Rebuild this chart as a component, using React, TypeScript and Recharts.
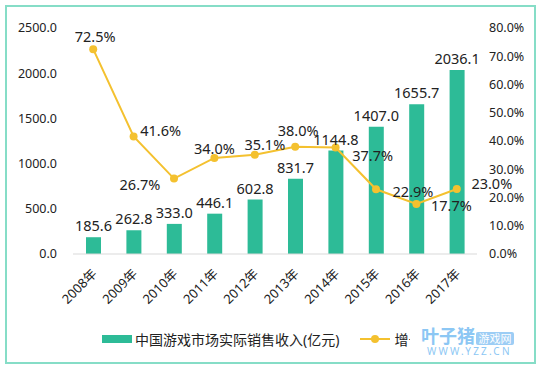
import { ComposedChart, Bar, Line, XAxis, YAxis, Legend, LabelList } from 'recharts'

const years = ['2008年', '2009年', '2010年', '2011年', '2012年', '2013年', '2014年', '2015年', '2016年', '2017年']
const revenue = [185.6, 262.8, 333.0, 446.1, 602.8, 831.7, 1144.8, 1407.0, 1655.7, 2036.1]
const growth = [72.5, 41.6, 26.7, 34.0, 35.1, 38.0, 37.7, 22.9, 17.7, 23.0]
const leftTicks = [0, 500, 1000, 1500, 2000, 2500]
const rightTicks = [0, 10, 20, 30, 40, 50, 60, 70, 80]

const barName = '中国游戏市场实际销售收入(亿元)'
const lineName = '增长率'

// label offsets for the growth line (Excel put them all over the place)
const lineLabelOffsets = [
  [2, -13], [27, -6], [-34, 5], [0, -10], [10, -11],
  [3, -17], [37, 8], [37, 2], [35, 1], [35, -6],
]

const FONT = "'Noto Sans', 'Noto Sans CJK SC', sans-serif"
const BAR = '#2dbb97'
const LINE = '#f4c12f'
const TEXT = '#222'

const data = years.map((year, i) => ({ year, revenue: revenue[i], growth: growth[i] }))

function LineLabel(props: any) {
  const { x, y, value, index } = props
  const [dx, dy] = lineLabelOffsets[index] || [0, -12]
  return (
    <text x={x + dx} y={y + dy} textAnchor="middle" dominantBaseline="central" fontSize={14.5} fill={TEXT} fontFamily={FONT}>
      {`${Number(value).toFixed(1)}%`}
    </text>
  )
}

function LegendContent() {
  return (
    <div style={{ height: 24, display: 'flex', alignItems: 'center', fontFamily: FONT, fontSize: 14, color: TEXT }}>
      <span style={{ marginLeft: 102, width: 30, height: 8, background: BAR, display: 'inline-block' }} />
      <span style={{ marginLeft: 3 }}>{barName}</span>
      <svg width={30} height={10} style={{ marginLeft: 21 }}>
        <line x1={0} y1={5} x2={30} y2={5} stroke={LINE} strokeWidth={2} />
        <circle cx={15} cy={5} r={4} fill={LINE} />
      </svg>
      <span style={{ marginLeft: 4 }}>{lineName}</span>
    </div>
  )
}

export default function App() {
  return (
    <div style={{ position: 'relative', width: 540, height: 369, background: '#fff', overflow: 'hidden' }}>
      <style>{'body{margin:0}'}</style>
      <ComposedChart
        width={540}
        height={369}
        data={data}
        margin={{ top: 28, right: 0, bottom: 18, left: 0 }}
        style={{ fontFamily: FONT }}
      >
        <XAxis
          dataKey="year"
          interval={0}
          angle={-45}
          textAnchor="end"
          height={73}
          tickLine={false}
          tickSize={0}
          tickMargin={14}
          axisLine={{ stroke: '#d9d9d9' }}
          tick={{ fontSize: 13, fill: TEXT, fontFamily: FONT, dx: -2 }}
        />
        <YAxis
          yAxisId="left"
          width={73}
          domain={[0, 2500]}
          ticks={leftTicks}
          tickFormatter={(v) => Number(v).toFixed(1)}
          axisLine={false}
          tickLine={false}
          tickSize={0}
          tickMargin={16}
          tick={{ fontSize: 12.5, fill: TEXT, fontFamily: FONT }}
        />
        <YAxis
          yAxisId="right"
          orientation="right"
          width={63}
          domain={[0, 80]}
          ticks={rightTicks}
          tickFormatter={(v) => `${Number(v).toFixed(1)}%`}
          axisLine={false}
          tickLine={false}
          tickSize={0}
          tickMargin={12}
          tick={{ fontSize: 12.5, fill: TEXT, fontFamily: FONT, textAnchor: 'start' }}
        />
        <Legend verticalAlign="bottom" content={<LegendContent />} />
        <Bar yAxisId="left" dataKey="revenue" name={barName} fill={BAR} barSize={15} isAnimationActive={false}>
          <LabelList
            dataKey="revenue"
            position="top"
            offset={6}
            formatter={(v: any) => Number(v).toFixed(1)}
            style={{ fontSize: 14.5, fill: TEXT, fontFamily: FONT }}
          />
        </Bar>
        <Line
          yAxisId="right"
          dataKey="growth"
          name={lineName}
          stroke={LINE}
          strokeWidth={2}
          dot={{ r: 4, fill: LINE, stroke: LINE, strokeWidth: 0 }}
          isAnimationActive={false}
        >
          <LabelList dataKey="growth" content={<LineLabel />} />
        </Line>
      </ComposedChart>
      <div
        style={{
          position: 'absolute', left: 5, top: 5, width: 531, height: 359,
          border: '2px solid #86ddc7', boxSizing: 'border-box', pointerEvents: 'none',
        }}
      />
      <div
        style={{
          position: 'absolute', left: 410, top: 322, width: 112, height: 39, background: '#fff',
          fontFamily: "'Noto Sans CJK SC', sans-serif", color: '#8cc7f4',
        }}
      >
        <div style={{ position: 'absolute', left: 11, top: 2, fontSize: 18, fontWeight: 700, lineHeight: '22px', letterSpacing: 0 }}>叶子猪</div>
        <div
          style={{
            position: 'absolute', left: 66, top: 10, width: 38, height: 13, background: '#9ccdf5', color: '#fff',
            fontSize: 11, lineHeight: '13px', textAlign: 'center', borderRadius: 2,
          }}
        >
          游戏网
        </div>
        <div style={{ position: 'absolute', left: 17, top: 23, fontSize: 10, lineHeight: '12px', letterSpacing: 2.2, fontFamily: FONT }}>
          WWW.YZZ.CN
        </div>
      </div>
    </div>
  )
}
